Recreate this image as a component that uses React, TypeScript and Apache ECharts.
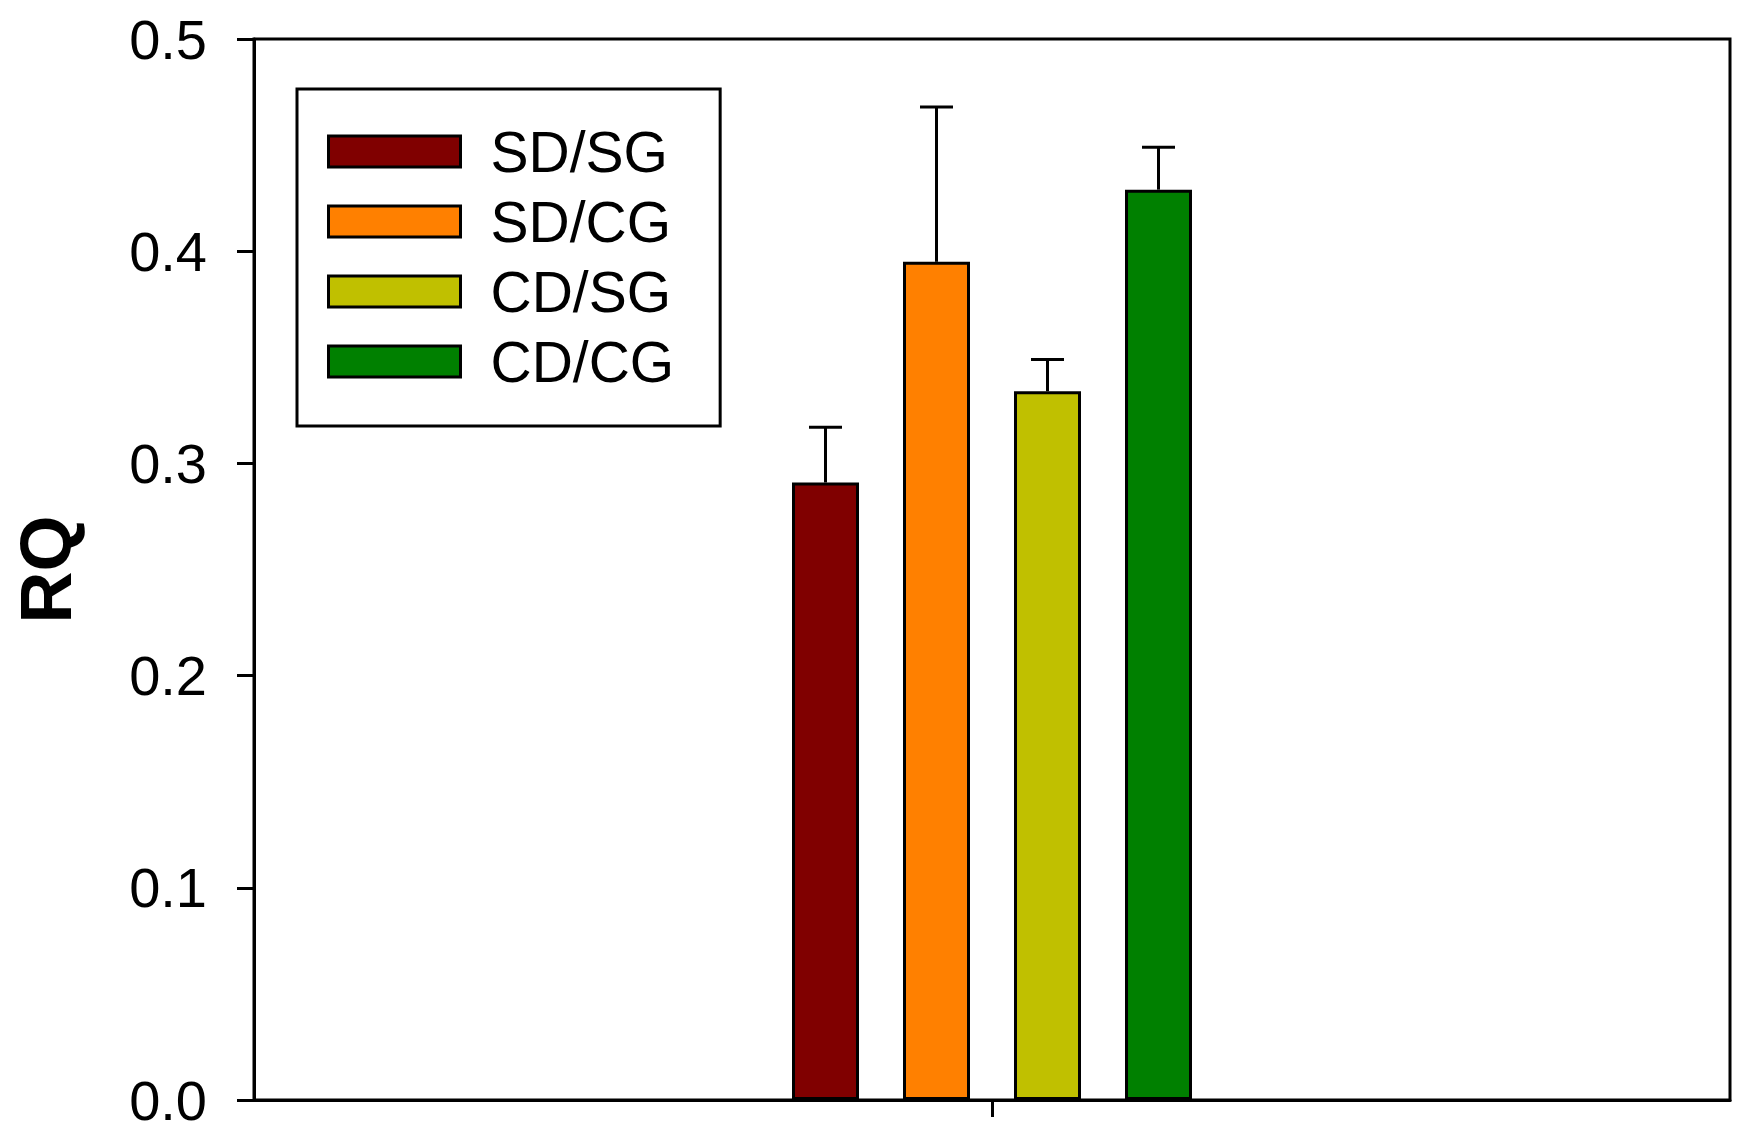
import React, { useEffect, useRef } from "react";
import * as echarts from "echarts";

const categories = ["RQ"];
const seriesNames = ["SD/SG", "SD/CG", "CD/SG", "CD/CG"];
const seriesColors = ["#800000", "#FF8000", "#C0C000", "#008000"];
const meanValues = [0.291, 0.395, 0.334, 0.429];
const errorValues = [0.026, 0.073, 0.015, 0.02];
const yTicks = { min: 0, max: 0.5, interval: 0.1 };

const BAR_WIDTH = 67;
const BAR_GAP_PX = 44;
const FONT = "Liberation Sans, Arial, Helvetica, sans-serif";

export default function App() {
  const ref = useRef<HTMLDivElement>(null);

  useEffect(() => {
    if (!ref.current) return;
    const chart = echarts.init(ref.current, undefined, { renderer: "svg" });

    const barSeries = seriesNames.map((name, i) => ({
      name,
      type: "bar",
      data: [meanValues[i]],
      barWidth: BAR_WIDTH,
      barGap: `${(BAR_GAP_PX / BAR_WIDTH) * 100}%`,
      itemStyle: { color: seriesColors[i], borderColor: "#000", borderWidth: 3 },
      z: 2,
    }));

    const errData = meanValues.map((v, i) => [0, v, errorValues[i], i]);
    const n = seriesNames.length;

    const errorSeries = {
      type: "custom",
      name: "err",
      z: 3,
      data: errData,
      encode: { x: 0, y: 1 },
      renderItem: (params: any, api: any) => {
        const v = api.value(1);
        const e = api.value(2);
        const idx = api.value(3);
        const base = api.coord([0, v]);
        const top = api.coord([0, v + e]);
        const off = (idx - (n - 1) / 2) * (BAR_WIDTH + BAR_GAP_PX);
        const cx = base[0] + off;
        const capHalf = 16.5;
        const style = { stroke: "#000", lineWidth: 3 };
        return {
          type: "group",
          children: [
            { type: "line", shape: { x1: cx, y1: base[1], x2: cx, y2: top[1] }, style },
            { type: "line", shape: { x1: cx - capHalf, y1: top[1], x2: cx + capHalf, y2: top[1] }, style },
          ],
        };
      },
    };

    chart.setOption({
      animation: false,
      backgroundColor: "#fff",
      grid: {
        left: 254,
        right: 20,
        top: 39,
        bottom: 37,
        show: true,
        borderColor: "#000",
        borderWidth: 3,
        backgroundColor: "transparent",
      },
      legend: {
        data: seriesNames,
        orient: "vertical",
        left: 297,
        top: 89,
        icon: "rect",
        itemWidth: 132,
        itemHeight: 31,
        itemGap: 13,
        padding: [34, 46, 36, 30],
        borderColor: "#000",
        borderWidth: 3,
        backgroundColor: "#fff",
        itemStyle: { borderColor: "#000", borderWidth: 3 },
        textStyle: { fontFamily: FONT, fontSize: 57, color: "#000", padding: [0, 0, 0, 25] },
      },
      xAxis: {
        type: "category",
        data: categories,
        axisLine: { show: true, lineStyle: { color: "#000", width: 3 } },
        axisTick: { show: true, alignWithLabel: true, length: 17, lineStyle: { color: "#000", width: 3 } },
        axisLabel: { show: false },
        splitLine: { show: false },
      },
      yAxis: {
        type: "value",
        min: yTicks.min,
        max: yTicks.max,
        interval: yTicks.interval,
        name: "RQ",
        nameLocation: "middle",
        nameGap: 172,
        nameRotate: 90,
        nameTextStyle: { fontFamily: FONT, fontSize: 72, fontWeight: "bold", color: "#000" },
        axisLine: { show: true, lineStyle: { color: "#000", width: 3 } },
        axisTick: { show: true, length: 17, lineStyle: { color: "#000", width: 3 } },
        axisLabel: {
          margin: 47,
          fontFamily: FONT,
          fontSize: 56,
          color: "#000",
          formatter: (v: number) => v.toFixed(1),
        },
        splitLine: { show: false },
      },
      series: [...barSeries, errorSeries],
    });

    return () => chart.dispose();
  }, []);

  return (
    <div
      ref={ref}
      style={{ position: "fixed", left: 0, top: 0, width: 1750, height: 1137, background: "#fff" }}
    />
  );
}
